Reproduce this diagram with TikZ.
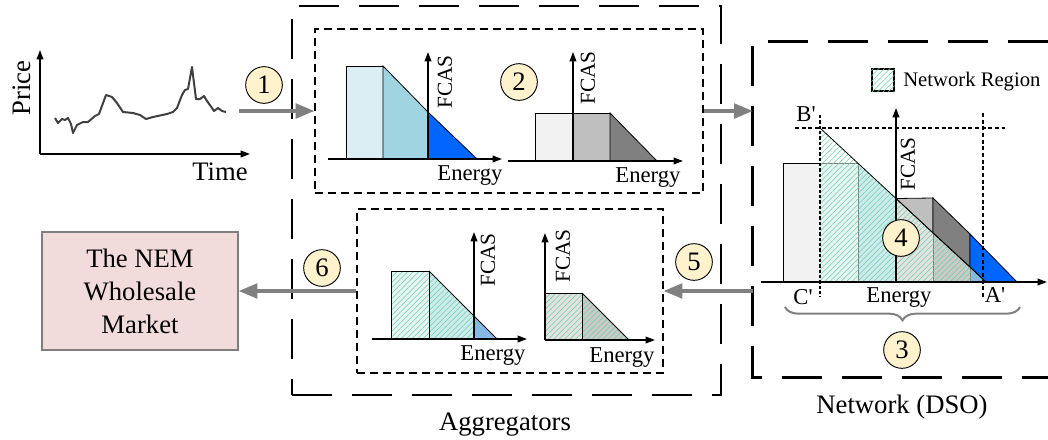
\documentclass[tikz,border=0pt]{standalone}
\usepackage{fontspec}
\setmainfont{Liberation Serif}
\usepackage{tikz}
\usetikzlibrary{arrows.meta, patterns.meta, fit, decorations.pathreplacing}

\definecolor{numfill}{HTML}{FFF2CC}
\definecolor{flowgray}{HTML}{808080}
\definecolor{curvegray}{HTML}{404040}
\definecolor{nemfill}{HTML}{F2DCDB}
\definecolor{nemdraw}{HTML}{7F7F7F}
\definecolor{lblue}{HTML}{DAEEF3}
\definecolor{mblue}{HTML}{A0D4E0}
\definecolor{dblue}{HTML}{0066FF}
\definecolor{pblue}{HTML}{8DB4F8}
\definecolor{lteal}{HTML}{E6F5F4}
\definecolor{mteal}{HTML}{CDEBEF}
\definecolor{lgray}{HTML}{F2F2F2}
\definecolor{mgray}{HTML}{BFBFBF}
\definecolor{dgray}{HTML}{808080}
\definecolor{hgray}{HTML}{E2E2E2}
\definecolor{hdgray}{HTML}{CACACA}
\definecolor{hatchgreen}{HTML}{6CCFA0}

\newcommand{\lblfont}{\fontsize{20}{24.75}\selectfont}
\newcommand{\enfont}{\fontsize{17}{17}\selectfont}
\newcommand{\fcfont}{\fontsize{16}{16}\selectfont}
\newcommand{\numfont}{\fontsize{20}{20}\selectfont}

\tikzstyle{outerbox} = [draw=black, line width=1.9pt, dash pattern=on 30pt off 15pt]
\tikzstyle{innerbox} = [draw=black, line width=1pt, dash pattern=on 6pt off 3.75pt, inner sep=0pt]
\tikzstyle{numcirc} = [circle, draw=black, line width=0.7pt, fill=numfill, minimum size=27.5pt, inner sep=0pt, font=\numfont]
\tikzstyle{flow} = [line width=2.3pt, flowgray, -{Triangle[length=14pt,width=11pt]}]
\tikzstyle{axis} = [line width=1.1pt, -{Triangle[length=7pt,width=5pt]}]
\tikzstyle{bar} = [draw=black, line width=0.6pt]
\tikzstyle{hatch} = [pattern={Lines[angle=45,distance=2.9pt,line width=0.4pt]}, pattern color=hatchgreen]
\tikzstyle{energy} = [font=\enfont, inner sep=0pt, anchor=base]
\tikzstyle{fcas} = [font=\fcfont, inner sep=0pt, rotate=90]
\tikzstyle{guide} = [draw=black, line width=1.1pt, dash pattern=on 3pt off 2pt]

\begin{document}
\begin{tikzpicture}[x=0.75pt, y=-0.75pt]
\useasboundingbox (0,0) rectangle (1048,439);

% --------- Price curve ----------
\draw [axis] (40,154) -- (40,50);
\draw [axis] (40,154) -- (250,154);
\node (PRICE) [font=\lblfont, inner sep=0pt, rotate=90] at (22,88) {Price};
\node (TIME)  [font=\lblfont, inner sep=0pt, anchor=base] at (220,180) {Time};
\draw [curvegray, line width=1.5pt, line join=round] plot coordinates {(55,118) (58,123) (62,119) (65,120) (68,118) (71,124) (73,133) (77,125) (83,122) (88,122) (95,116) (99,114) (106,95) (112,97) (117,103) (123,112) (133,113) (140,115) (146,119) (153,117) (167,114) (173,112) (177,108) (182,95) (185,90) (188,89) (192,67) (196,99) (200,99) (204,96) (207,101) (212,108) (214,111) (218,108) (222,111) (226,112)};
\coordinate (PRICEOUT) at (239,111);

% --------- Boxes ----------
\node (AGG)    [outerbox, fit={(292,6) (721,395)}, inner sep=0pt] {};
\node (AGGTOP) [innerbox, fit={(315,29) (703,193)}] {};
\node (AGGBOT) [innerbox, fit={(357,209) (663,373)}] {};
\node (NET)    [fit={(753,42) (1048,377)}, inner sep=0pt] {};
\draw [outerbox] (NET.north east) -| (NET.south west) -- (NET.south east);
\node (AGGTXT) [font=\lblfont, inner sep=0pt, anchor=base] at (505,430) {Aggregators};
\node (NETTXT) [font=\lblfont, inner sep=0pt, anchor=base] at (902,413) {Network (DSO)};

\node (NEM) [draw=nemdraw, fill=nemfill, line width=1pt, minimum width=147pt, minimum height=88.5pt,
             align=center, font=\lblfont] at (140,291) {The NEM\\Wholesale\\Market};

% --------- Offer curves (top) ----------
\filldraw [bar, fill=lblue] (346,66) rectangle (383,159);
\filldraw [bar, fill=mblue] (383,159) -- (383,66) -- (428,112) -- (428,159) -- cycle;
\filldraw [bar, fill=dblue] (428,112) -- (477,159) -- (428,159) -- cycle;
\draw [axis] (328,159) -- (502,159);
\draw [axis] (428,159) -- (428,52);
\node (FCAS1) [fcas] at (445,82) {FCAS};
\node (EN1) [energy] at (470,180) {Energy};

\filldraw [bar, fill=lgray] (535,113) rectangle (573,161);
\filldraw [bar, fill=mgray] (573,113) rectangle (610,161);
\filldraw [bar, fill=dgray] (610,113) -- (657,161) -- (610,161) -- cycle;
\draw [axis] (508,161) -- (683,161);
\draw [axis] (573,161) -- (573,52);
\node (FCAS2) [fcas] at (588,78) {FCAS};
\node (EN2) [energy] at (648,182) {Energy};

% --------- Network region ----------
\filldraw [bar, fill=lgray] (783,163) rectangle (820,282);
\fill [lteal] (820,163) rectangle (858,282);
\fill [mteal] (858,163) -- (896,198.5) -- (896,282) -- (858,282) -- cycle;
\fill [hgray] (896,198.5) -- (933,233) -- (933,282) -- (896,282) -- cycle;
\fill [hdgray] (933,233) -- (970,267) -- (970,282) -- (933,282) -- cycle;
\fill [pblue] (970,267) -- (986,282) -- (970,282) -- cycle;
\draw [gray, line width=0.6pt] (820,163) -- (858,163) -- (858,282);
\draw [gray, line width=0.6pt] (896,282) -- (896,198) (933,233) -- (933,282) (970,267) -- (970,282);
\filldraw [bar, fill=mgray] (896,198.5) -- (933,198) -- (933,233) -- cycle;
\filldraw [bar, fill=dgray] (933,198) -- (970,234) -- (970,267) -- (933,233) -- cycle;
\filldraw [bar, fill=dblue] (970,234) -- (1017,282) -- (986,282) -- (970,267) -- cycle;
\path [hatch] (820,128) -- (986,282) -- (820,282) -- cycle;
\draw [black, line width=0.6pt] (820,128) -- (986,282);
\draw [guide] (795,128) -- (1005,128);
\draw [guide, line width=2pt, dash pattern=on 2.5pt off 1.5pt] (820,115) -- (820,297);
\draw [guide] (983,113) -- (983,297);
\draw [axis] (761,282) -- (1047,282);
\draw [axis] (896,282) -- (896,108);
\node (FCAS3) [fcas] at (908,164) {FCAS};
\node (EN3) [energy] at (899,302) {Energy};
\node (BP) [font=\enfont, inner sep=0pt] at (806,114) {B\textquotesingle};
\node (CP) [font=\enfont, inner sep=0pt] at (803,297) {C\textquotesingle};
\node (AP) [font=\enfont, inner sep=0pt] at (995,295) {A\textquotesingle};
\draw [flowgray, line width=1.5pt, decorate, decoration={brace, mirror, amplitude=10pt}] (785,307) -- (1020,307);

\node (LEGSQ) [draw=black, line width=0.8pt, fill=white, minimum size=16.5pt, inner sep=0pt] at (883,80) {};
\path [hatch] (LEGSQ.south west) rectangle (LEGSQ.north east);
\node (LEGTXT) [anchor=base west, font=\fontsize{15.5}{15.5}\selectfont, inner sep=0pt] at (903,86) {Network Region};

% --------- Offer curves (bottom) ----------
\fill [lteal] (391,271) rectangle (429,339);
\fill [mteal] (429,271) -- (474,316) -- (474,339) -- (429,339) -- cycle;
\fill [pblue] (474,316) -- (497,339) -- (474,339) -- cycle;
\path [hatch] (391,271) -- (429,271) -- (497,339) -- (391,339) -- cycle;
\draw [bar] (391,339) -- (391,271) -- (429,271) -- (429,339);
\draw [bar] (429,271) -- (497,339);
\draw [axis] (372,339) -- (527,339);
\draw [axis] (474,339) -- (474,232);
\node (FCAS4) [fcas] at (488,260) {FCAS};
\node (EN4) [energy] at (493,360) {Energy};

\fill [hgray] (545,293) rectangle (582,340);
\fill [hdgray] (582,293) -- (629,340) -- (582,340) -- cycle;
\path [hatch] (545,293) -- (582,293) -- (629,340) -- (545,340) -- cycle;
\draw [bar] (545,293) -- (582,293) -- (582,340);
\draw [bar] (582,293) -- (629,340);
\draw [axis] (545,340) -- (655,340);
\draw [axis] (545,340) -- (545,233);
\node (FCAS5) [fcas] at (563,256) {FCAS};
\node (EN5) [energy] at (622,362) {Energy};

% --------- Steps ----------
\node (S1) [numcirc] at (264,85) {1};
\node (S2) [numcirc] at (519,82) {2};
\node (S3) [numcirc] at (902,350) {3};
\node (S4) [numcirc] at (901,238) {4};
\node (S5) [numcirc] at (694,262) {5};
\node (S6) [numcirc] at (322,268) {6};

% Flow arrows
\draw [flow] (PRICEOUT) -- (PRICEOUT -| AGGTOP.west);
\draw [flow] (AGGTOP.east) -- (AGGTOP.east -| NET.west);
\draw [flow] (NET.west |- AGGBOT.east) -- (AGGBOT.east);
\draw [flow] (AGGBOT.west) -- (NEM.east);

\end{tikzpicture}
\end{document}
